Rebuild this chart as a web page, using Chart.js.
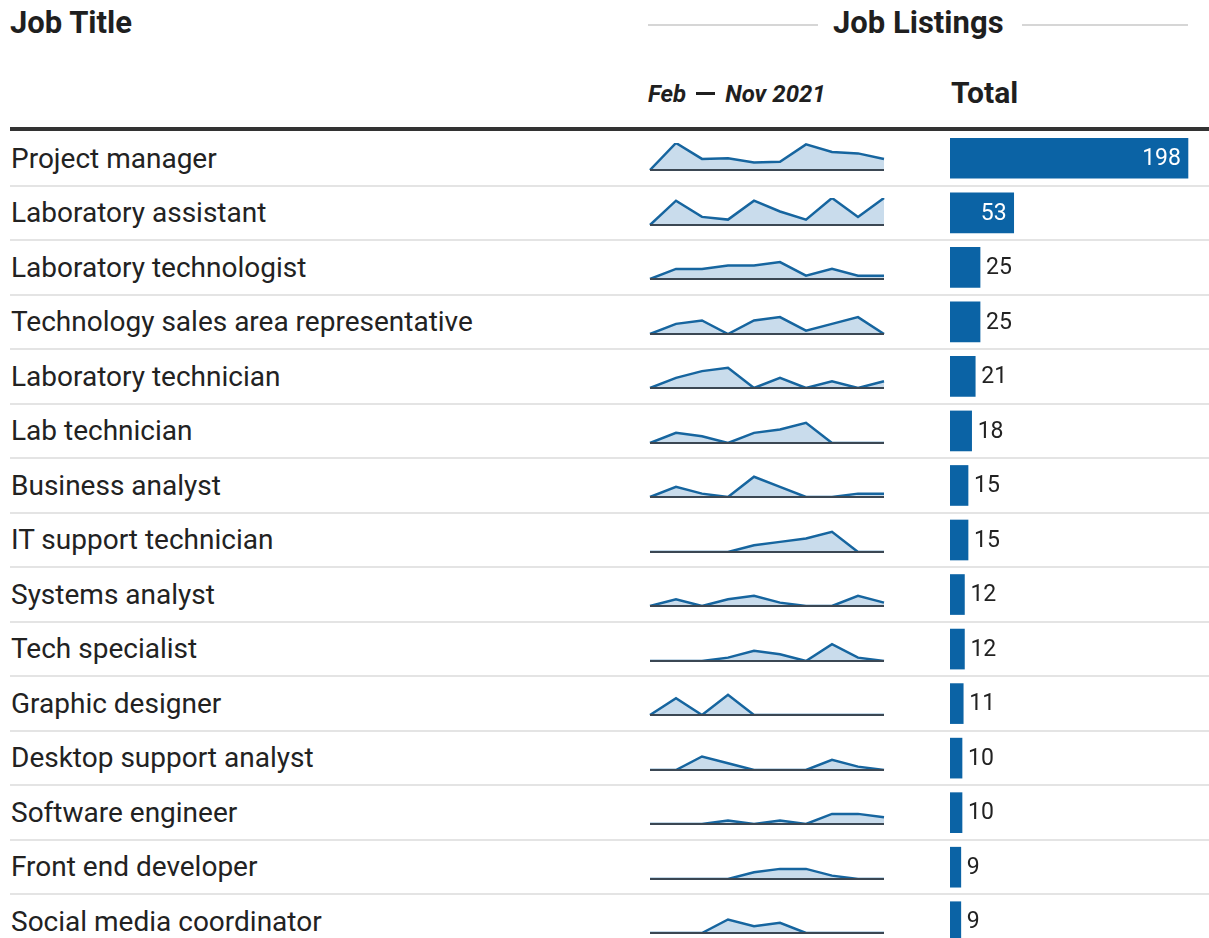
<!DOCTYPE html>
<html>
<head>
<meta charset="utf-8">
<script src="https://cdn.jsdelivr.net/npm/chart.js@4.4.1/dist/chart.umd.min.js"></script>
<style>
  body { margin: 0; background: #fff; font-family: Roboto, "Noto Sans", sans-serif; color: #222; }
  #page { position: relative; width: 1209px; height: 938px; overflow: hidden; }
  .abs { position: absolute; white-space: nowrap; }
  .head { font-weight: 700; font-size: 31px; line-height: 32px; color: #1f1f1f; }
  .rule { position: absolute; height: 2px; background: #e4e4e4; }
  .title { position: absolute; left: 11px; font-size: 28px; line-height: 30px; color: #222; white-space: nowrap; }
  .dash { display: inline-block; width: 19px; height: 3px; background: #1f1f1f; vertical-align: middle; margin: 0 10px 0 10px; position: relative; top: -2px; }
  canvas { position: absolute; }
</style>
</head>
<body>
<div id="page">
  <div class="abs head" style="left:10px; top:7px;">Job Title</div>
  <div class="rule" style="left:648px; top:24px; width:170px; background:#d6d6d6;"></div>
  <div class="abs head" style="left:833px; top:7px;">Job Listings</div>
  <div class="rule" style="left:1022px; top:24px; width:166px; background:#d6d6d6;"></div>
  <div class="abs" style="left:648px; top:80px; font-size:24px; line-height:28px; font-weight:700; font-style:italic; color:#1f1f1f;">Feb<span class="dash"></span>Nov 2021</div>
  <div class="abs head" style="left:951px; top:77px; font-size:30px;">Total</div>
  <div style="position:absolute; left:10px; top:127px; width:1199px; height:4px; background:#333;"></div>
  <canvas id="bars" width="259" height="818" style="left:950px; top:131px;"></canvas>
</div>

<script>
// Feb - Nov 2021 job listings
const jobTitles = [
  'Project manager', 'Laboratory assistant', 'Laboratory technologist',
  'Technology sales area representative', 'Laboratory technician', 'Lab technician',
  'Business analyst', 'IT support technician', 'Systems analyst', 'Tech specialist',
  'Graphic designer', 'Desktop support analyst', 'Software engineer',
  'Front end developer', 'Social media coordinator'
];
const totals = [198, 53, 25, 25, 21, 18, 15, 15, 12, 12, 11, 10, 10, 9, 9];
const months = ['Feb', 'Mar', 'Apr', 'May', 'Jun', 'Jul', 'Aug', 'Sep', 'Oct', 'Nov'];

// monthly listings per job title, same order as jobTitles
const projectManager      = [0, 39, 16, 17, 11, 12, 37, 26, 24, 16];
const labAssistant        = [0, 9, 3, 2, 9, 5, 2, 10, 3, 10];
const labTechnologist     = [0, 3, 3, 4, 4, 5, 1, 3, 1, 1];
const techSalesRep        = [0, 3, 4, 0, 4, 5, 1, 3, 5, 0];
const laboratoryTech      = [0, 3, 5, 6, 0, 3, 0, 2, 0, 2];
const labTech             = [0, 3, 2, 0, 3, 4, 6, 0, 0, 0];
const businessAnalyst     = [0, 3, 1, 0, 6, 3, 0, 0, 1, 1];
const itSupportTech       = [0, 0, 0, 0, 2, 3, 4, 6, 0, 0];
const systemsAnalyst      = [0, 2, 0, 2, 3, 1, 0, 0, 3, 1];
const techSpecialist      = [0, 0, 0, 1, 3, 2, 0, 5, 1, 0];
const graphicDesigner     = [0, 5, 0, 6, 0, 0, 0, 0, 0, 0];
const desktopSupport      = [0, 0, 4, 2, 0, 0, 0, 3, 1, 0];
const softwareEngineer    = [0, 0, 0, 1, 0, 1, 0, 3, 3, 2];
const frontEndDev         = [0, 0, 0, 0, 2, 3, 3, 1, 0, 0];
const socialMediaCoord    = [0, 0, 0, 4, 2, 3, 0, 0, 0, 0];

const monthly = [
  projectManager, labAssistant, labTechnologist, techSalesRep, laboratoryTech,
  labTech, businessAnalyst, itSupportTech, systemsAnalyst, techSpecialist,
  graphicDesigner, desktopSupport, softwareEngineer, frontEndDev, socialMediaCoord
];

const BLUE = '#0b63a5';
const ROW_TOP = 131;
const ROW_H = 54.5;

const page = document.getElementById('page');

// baseline under every sparkline
const baselinePlugin = {
  id: 'baseline',
  afterDatasetsDraw(chart) {
    const { ctx, chartArea } = chart;
    const y = chart.scales.y.getPixelForValue(0);
    ctx.save();
    ctx.strokeStyle = '#3b4753';
    ctx.lineWidth = 2;
    ctx.beginPath();
    ctx.moveTo(chartArea.left, y);
    ctx.lineTo(chartArea.right, y);
    ctx.stroke();
    ctx.restore();
  }
};

jobTitles.forEach(function (title, i) {
  const center = ROW_TOP + ROW_H * i + ROW_H / 2;

  const label = document.createElement('div');
  label.className = 'title';
  label.style.top = (center - 14.5) + 'px';
  label.textContent = title;
  page.appendChild(label);

  if (i < jobTitles.length - 1) {
    const sep = document.createElement('div');
    sep.className = 'rule';
    sep.style.left = '10px';
    sep.style.width = '1199px';
    sep.style.top = (ROW_TOP + ROW_H * (i + 1) - 1) + 'px';
    page.appendChild(sep);
  }

  const cv = document.createElement('canvas');
  cv.width = 240;
  cv.height = 32;
  cv.style.left = '647px';
  cv.style.top = (center - 18) + 'px';
  page.appendChild(cv);

  const values = monthly[i];
  new Chart(cv, {
    type: 'line',
    data: {
      labels: months,
      datasets: [{
        data: values,
        borderColor: '#16659f',
        borderWidth: 2.5,
        backgroundColor: '#c9dcec',
        fill: 'origin',
        pointRadius: 0,
        tension: 0
      }]
    },
    options: {
      responsive: false,
      animation: false,
      layout: { padding: { left: 3, right: 3, top: 3, bottom: 2 } },
      plugins: { legend: { display: false }, tooltip: { enabled: false } },
      scales: {
        x: { display: false, offset: false },
        y: { display: false, min: 0, max: Math.max(8, Math.max.apply(null, values)) }
      }
    },
    plugins: [baselinePlugin]
  });
});

// value labels on the total bars
const valueLabels = {
  id: 'valueLabels',
  afterDatasetsDraw(chart) {
    const { ctx } = chart;
    const meta = chart.getDatasetMeta(0);
    ctx.save();
    ctx.font = '23px Roboto, sans-serif';
    ctx.textBaseline = 'middle';
    meta.data.forEach(function (bar, i) {
      const txt = String(totals[i]);
      const w = ctx.measureText(txt).width;
      const barW = bar.x - bar.base;
      if (w + 16 < barW) {
        ctx.fillStyle = '#fff';
        ctx.textAlign = 'right';
        ctx.fillText(txt, bar.x - 7, bar.y + 1);
      } else {
        ctx.fillStyle = '#222';
        ctx.textAlign = 'left';
        ctx.fillText(txt, bar.x + 6, bar.y + 1);
      }
    });
    ctx.restore();
  }
};

new Chart(document.getElementById('bars'), {
  type: 'bar',
  data: {
    labels: jobTitles,
    datasets: [{
      data: totals,
      backgroundColor: BLUE,
      barThickness: 40,
      borderWidth: 0
    }]
  },
  options: {
    indexAxis: 'y',
    responsive: false,
    animation: false,
    layout: { padding: 0 },
    plugins: { legend: { display: false }, tooltip: { enabled: false } },
    scales: {
      x: { display: false, min: 0, max: 215.5 },
      y: { display: false }
    }
  },
  plugins: [valueLabels]
});
</script>
</body>
</html>
